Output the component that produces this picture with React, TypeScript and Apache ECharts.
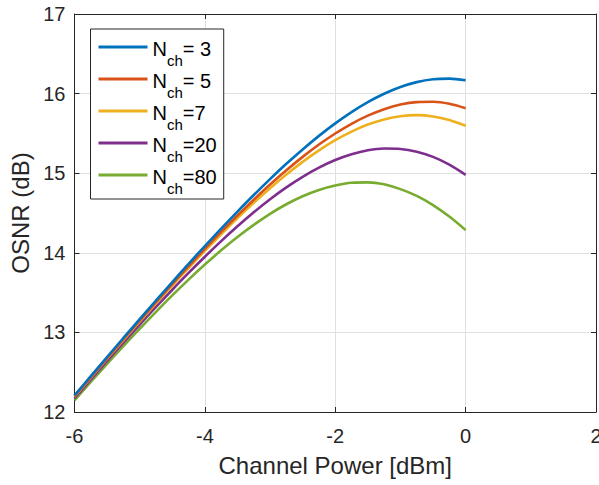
import React, { useEffect, useRef } from 'react';
import * as echarts from 'echarts';

// Channel power [dBm]
const power = [
  -6, -5.75, -5.5, -5.25, -5, -4.75, -4.5, -4.25, -4, -3.75, -3.5, -3.25, -3,
  -2.75, -2.5, -2.25, -2, -1.75, -1.5, -1.25, -1, -0.75, -0.5, -0.25, 0,
];

// OSNR [dB]
const osnrN3 = [
  12.208, 12.45, 12.691, 12.93, 13.166, 13.401, 13.632, 13.861, 14.085, 14.304, 14.518, 14.726, 14.926,
  15.118, 15.299, 15.469, 15.626, 15.768, 15.893, 15.998, 16.083, 16.144, 16.18, 16.188, 16.168,
];
const osnrN5 = [
  12.199, 12.439, 12.678, 12.914, 13.148, 13.379, 13.607, 13.83, 14.049, 14.262, 14.468, 14.667, 14.858,
  15.037, 15.205, 15.36, 15.499, 15.621, 15.723, 15.804, 15.862, 15.893, 15.897, 15.872, 15.816,
];
const osnrN7 = [
  12.192, 12.431, 12.669, 12.903, 13.135, 13.364, 13.589, 13.809, 14.024, 14.233, 14.435, 14.628, 14.811,
  14.983, 15.142, 15.286, 15.414, 15.523, 15.611, 15.676, 15.716, 15.729, 15.713, 15.667, 15.595,
];
const osnrN20 = [
  12.173, 12.409, 12.642, 12.872, 13.098, 13.32, 13.536, 13.747, 13.951, 14.147, 14.333, 14.509, 14.673,
  14.822, 14.955, 15.07, 15.165, 15.238, 15.288, 15.31, 15.305, 15.27, 15.205, 15.108, 14.98,
];
const osnrN80 = [
  12.147, 12.377, 12.605, 12.828, 13.046, 13.259, 13.465, 13.663, 13.852, 14.031, 14.198, 14.351, 14.49,
  14.61, 14.711, 14.79, 14.846, 14.88, 14.885, 14.86, 14.80, 14.715, 14.60, 14.455, 14.285,
];

const seriesNames = ['Nch= 3', 'Nch= 5', 'Nch=7', 'Nch=20', 'Nch=80'];
const seriesValues = [osnrN3, osnrN5, osnrN7, osnrN20, osnrN80];
const colors = ['#0072BD', '#D95319', '#EDB120', '#7E2F8E', '#77AC30'];

const xTicks = { min: -6, max: 2, interval: 2 };
const yTicks = { min: 12, max: 17, interval: 1 };

const FONT = '"Liberation Sans", Arial, Helvetica, sans-serif';
const AXIS = '#262626';
const GRID = '#e0e0e0';

export default function App() {
  const ref = useRef<HTMLDivElement>(null);

  useEffect(() => {
    const chart = echarts.init(ref.current!, null, { renderer: 'svg' });
    const option: any = {
      animation: false,
      backgroundColor: '#ffffff',
      textStyle: { fontFamily: FONT },
      grid: { left: 74.5, right: 3, top: 14, bottom: 73, containLabel: false, outerBoundsMode: 'none' },
      legend: {
        orient: 'vertical',
        left: 90.5,
        top: 29,
        padding: [8, 7, 3, 8],
        itemGap: 1,
        itemWidth: 49,
        itemHeight: 3,
        icon: 'rect',
        backgroundColor: '#ffffff',
        borderColor: AXIS,
        borderWidth: 1,
        borderRadius: 0,
        data: seriesNames.map((name) => ({ name, icon: 'rect' })),
        formatter: (name: string) => `{n|N}{s|ch}{n|${name.slice(3)}}`,
        textStyle: {
          fontFamily: FONT,
          color: '#000000',
          rich: {
            n: { fontSize: 20, lineHeight: 20, padding: [2, 0, 0, 0], verticalAlign: 'top', fontFamily: FONT, color: '#000000' },
            s: { fontSize: 15, lineHeight: 15, padding: [16, 0, 0, 0], verticalAlign: 'top', fontFamily: FONT, color: '#000000' },
          },
        },
      },
      xAxis: [
        {
          type: 'value',
          ...xTicks,
          name: 'Channel Power [dBm]',
          nameLocation: 'middle',
          nameGap: 41,
          nameTextStyle: { fontSize: 24, color: AXIS, fontFamily: FONT },
          axisLine: { show: true, onZero: false, lineStyle: { color: AXIS, width: 1 } },
          axisTick: { show: true, inside: true, length: 5, lineStyle: { color: AXIS } },
          axisLabel: { fontSize: 20, color: AXIS, margin: 14, fontFamily: FONT },
          splitLine: { show: true, lineStyle: { color: GRID, width: 1 } },
        },
        {
          type: 'value',
          position: 'top',
          ...xTicks,
          axisLine: { show: true, onZero: false, lineStyle: { color: AXIS, width: 1 } },
          axisTick: { show: true, inside: true, length: 5, lineStyle: { color: AXIS } },
          axisLabel: { show: false },
          splitLine: { show: false },
        },
      ],
      yAxis: [
        {
          type: 'value',
          ...yTicks,
          name: 'OSNR (dB)',
          nameLocation: 'middle',
          nameGap: 41,
          nameTextStyle: { fontSize: 24, color: AXIS, fontFamily: FONT },
          axisLine: { show: true, onZero: false, lineStyle: { color: AXIS, width: 1 } },
          axisTick: { show: true, inside: true, length: 5, lineStyle: { color: AXIS } },
          axisLabel: { fontSize: 20, color: AXIS, margin: 9, fontFamily: FONT },
          splitLine: { show: true, lineStyle: { color: GRID, width: 1 } },
        },
        {
          type: 'value',
          position: 'right',
          ...yTicks,
          axisLine: { show: true, onZero: false, lineStyle: { color: AXIS, width: 1 } },
          axisTick: { show: true, inside: true, length: 5, lineStyle: { color: AXIS } },
          axisLabel: { show: false },
          splitLine: { show: false },
        },
      ],
      series: seriesNames.map((name, k) => ({
        name,
        type: 'line',
        xAxisIndex: 0,
        yAxisIndex: 0,
        data: power.map((p, i) => [p, seriesValues[k][i]]),
        showSymbol: false,
        symbol: 'none',
        smooth: 0.3,
        color: colors[k],
        itemStyle: { color: colors[k] },
        lineStyle: { width: 2.6, color: colors[k] },
        z: 10 - k,
      })),
    };
    chart.setOption(option);
    return () => chart.dispose();
  }, []);

  return (
    <div
      ref={ref}
      style={{ position: 'fixed', left: 0, top: 0, width: 599, height: 485, background: '#ffffff' }}
    />
  );
}
